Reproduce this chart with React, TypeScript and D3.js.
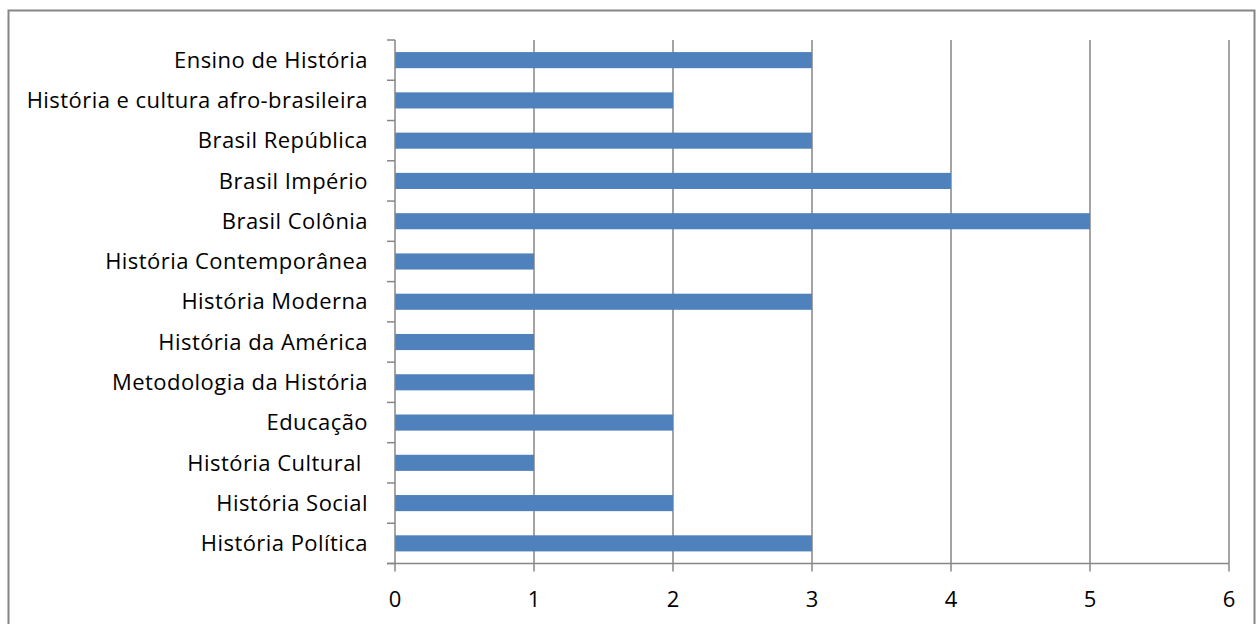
import React from "react";
import * as d3 from "d3";

const categories = [
  "Ensino de História",
  "História e cultura afro-brasileira",
  "Brasil República",
  "Brasil Império",
  "Brasil Colônia",
  "História Contemporânea",
  "História Moderna",
  "História da América",
  "Metodologia da História",
  "Educação",
  "História Cultural ",
  "História Social",
  "História Política",
];
const values = [3, 2, 3, 4, 5, 1, 3, 1, 1, 2, 1, 2, 3];
const xTicks = [0, 1, 2, 3, 4, 5, 6];

const W = 1256;
const H = 624;
const FONT = "'Open Sans', Lato, sans-serif";

export default function App() {
  const margin = { left: 395, right: 27, top: 40, bottom: 60.5 };
  const x = d3.scaleLinear().domain([0, 6]).range([margin.left, W - margin.right]);
  const y = d3
    .scaleBand<string>()
    .domain(categories)
    .range([margin.top, H - margin.bottom])
    .paddingInner(0.6)
    .paddingOuter(0.3);
  const step = y.step();
  const bandTop = margin.top;
  const axisY = H - margin.bottom;
  const grid = "#868686";

  return (
    <svg
      width={W}
      height={H}
      style={{ position: "absolute", left: 0, top: 0 }}
      fontFamily={FONT}
    >
      <rect x={0} y={0} width={W} height={H} fill="#fff" />
      <rect x={8.5} y={10.5} width={W - 10} height={H + 10} fill="none" stroke={grid} strokeWidth={2} />
      {/* vertical gridlines */}
      {xTicks.slice(1).map((t) => (
        <line key={t} x1={x(t)} x2={x(t)} y1={bandTop} y2={axisY} stroke={grid} strokeWidth={1.5} />
      ))}
      {/* bars */}
      {categories.map((c, i) => (
        <rect
          key={c}
          x={x(0)}
          y={y(c)!}
          width={x(values[i]) - x(0)}
          height={y.bandwidth()}
          fill="#4F81BD"
        />
      ))}
      {/* category axis */}
      <line x1={x(0)} x2={x(0)} y1={bandTop} y2={axisY} stroke={grid} strokeWidth={1.5} />
      {d3.range(categories.length + 1).map((i) => (
        <line
          key={i}
          x1={x(0) - 8}
          x2={x(0)}
          y1={bandTop + i * step}
          y2={bandTop + i * step}
          stroke={grid}
          strokeWidth={1.5}
        />
      ))}
      {categories.map((c) => (
        <text
          key={c}
          x={368}
          y={y(c)! + y.bandwidth() / 2}
          dy="0.35em"
          textAnchor="end"
          fontSize={22}
          letterSpacing={0.45}
          fill="#000"
          style={{ whiteSpace: "pre" }}
        >
          {c}
        </text>
      ))}
      {/* value axis */}
      <line x1={x(0) - 8} x2={x(6)} y1={axisY} y2={axisY} stroke={grid} strokeWidth={1.5} />
      {xTicks.map((t) => (
        <g key={t}>
          <line x1={x(t)} x2={x(t)} y1={axisY} y2={axisY + 8} stroke={grid} strokeWidth={1.5} />
          <text x={x(t)} y={607} textAnchor="middle" fontSize={22} fill="#000">
            {t}
          </text>
        </g>
      ))}
    </svg>
  );
}
